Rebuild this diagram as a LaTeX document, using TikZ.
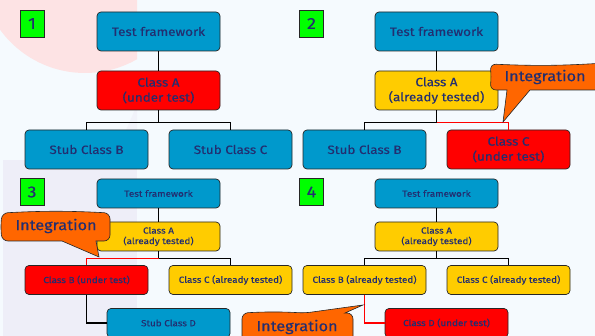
\documentclass[tikz,border=0pt]{standalone}
\usepackage{fontspec}
\setmainfont[FakeStretch=1.12,FakeBold=0.3]{Fira Sans}
\usetikzlibrary{calc}
\definecolor{bgc}{HTML}{F5FAFE}
\definecolor{pinkc}{HTML}{FDE3E4}
\definecolor{lavc}{HTML}{EEEEF8}
\definecolor{cblue}{HTML}{0099CC}
\definecolor{cred}{HTML}{FF0000}
\definecolor{cyel}{HTML}{FFCC00}
\definecolor{corange}{HTML}{FF6600}
\definecolor{cgreen}{HTML}{00FF00}
\definecolor{txt}{HTML}{232E70}
\definecolor{edge}{HTML}{262626}
\begin{document}
\begin{tikzpicture}[x=1pt,y=-1pt,
  box/.style={draw=edge, line width=0.7pt, rounded corners=4pt, minimum width=123pt, text=txt, align=center, inner sep=0pt},
  big/.style={box, minimum height=39pt, font=\fontsize{12}{15}\selectfont},
  small/.style={box, minimum height=29pt, font=\fontsize{8.8}{10.5}\selectfont},
  bluebox/.style={fill=cblue},
  redbox/.style={fill=cred},
  yelbox/.style={fill=cyel},
  numbox/.style={draw=edge, line width=0.7pt, fill=cgreen, text=txt, minimum width=24pt, minimum height=27pt, inner sep=0pt, font=\fontsize{16}{16}\selectfont},
  conn/.style={draw=black, line width=1.1pt},
  redconn/.style={draw=cred, line width=1.1pt},
  callout/.style={draw=edge, line width=0.6pt, fill=corange},
  intext/.style={text=txt, inner sep=0pt, font=\fontsize{14.5}{15}\selectfont}
]
\useasboundingbox (0,0) rectangle (595,336);
\fill[bgc] (0,0) rectangle (595,336);
\begin{scope}
  \clip (0,0) rectangle (137,336);
  \fill[pinkc] (85,-32) circle (105);
\end{scope}
\fill[lavc] (3,160) rectangle (137,336);
\fill[lavc!60!bgc] (137,105) -- (137,160) -- (113,160) -- cycle;

% ---------- Panel 1
\node[numbox] (n1) at (32,23.5) {1};
\node[big,bluebox] (tf1) at (158.5,31.5) {Test framework};
\node[big,redbox] (a1) at (158.5,90.5) {Class A\\(under test)};
\node[big,bluebox] (b1) at (86.5,149.5) {Stub Class B};
\node[big,bluebox] (c1) at (230.5,149.5) {Stub Class C};
\coordinate (j1) at ($(a1.south)+(0,12)$);
\draw[conn] (tf1) -- (a1);
\draw[conn] (a1.south) -- (j1) -| (b1.north);
\draw[conn] (j1) -| (c1.north);

% ---------- Panel 2
\node[numbox] (n2) at (311.5,23.5) {2};
\node[big,bluebox] (tf2) at (436.5,31.5) {Test framework};
\node[big,yelbox] (a2) at (436.5,90.5) {Class A\\(already tested)};
\node[big,bluebox] (b2) at (364.5,149.5) {Stub Class B};
\node[big,redbox] (c2) at (508.5,149.5) {Class C\\(under test)};
\coordinate (j2) at ($(a2.south)+(0,12)$);
\draw[conn] (tf2) -- (a2);
\draw[conn] (a2.south) -- (j2) -| (b2.north);
\draw[redconn] (j2) -| (c2.north);
\coordinate (p2) at (503,122);
\draw[callout] (p2) -- (530,90) [rounded corners=6pt] -- (605,90) -- (605,63) to[bend left=3] (490,64) to[bend left=6] (490,90) [sharp corners] -- (507,90) -- cycle;
\node[intext] (i2) at (545,77) {Integration};

% ---------- Panel 3
\node[numbox] (n3) at (32,192) {3};
\node[small,bluebox] (tf3) at (158.5,193.5) {Test framework};
\node[small,yelbox] (a3) at (158.5,236.5) {Class A\\(already tested)};
\node[small,redbox] (b3) at (86.5,280) {Class B (under test)};
\node[small,yelbox] (c3) at (230.5,280) {Class C (already tested)};
\node[small,bluebox] (d3) at (168.5,323) {Stub Class D};
\coordinate (j3) at ($(a3.south)+(0,7)$);
\draw[conn] (tf3) -- (a3);
\draw[conn] (a3.south) -- (j3) -| (c3.north);
\draw[redconn] (j3) -| (b3.north);
\draw[conn] (b3.south) |- (d3.west);
\coordinate (p3) at (99,257);
\draw[callout] (p3) -- (62,241) [rounded corners=6pt] -- (2,241) to[bend left=6] (2,213) to[bend left=3] (110,213) -- (110,241) [sharp corners] -- (96,241) -- cycle;
\node[intext] (i3) at (56,226) {Integration};

% ---------- Panel 4
\node[numbox] (n4) at (311.5,192) {4};
\node[small,bluebox] (tf4) at (436.5,193.5) {Test framework};
\node[small,yelbox] (a4) at (436.5,236.5) {Class A\\(already tested)};
\node[small,yelbox] (b4) at (364.5,280) {Class B (already tested)};
\node[small,yelbox] (c4) at (508.5,280) {Class C (already tested)};
\node[small,redbox] (d4) at (446.5,323) {Class D (under test)};
\coordinate (j4) at ($(a4.south)+(0,7)$);
\draw[conn] (tf4) -- (a4);
\draw[conn] (a4.south) -- (j4) -| (b4.north);
\draw[conn] (j4) -| (c4.north);
\draw[redconn] (b4.south) |- (d4.west);
\coordinate (p4) at (363,305);
\draw[callout] (p4) -- (345,313) [rounded corners=6pt] -- (353,313) -- (353,345) -- (242,345) -- (242,313) to[bend left=3] (305,313) [sharp corners] -- cycle;
\node[intext] (i4) at (297,327) {Integration};
\end{tikzpicture}
\end{document}
